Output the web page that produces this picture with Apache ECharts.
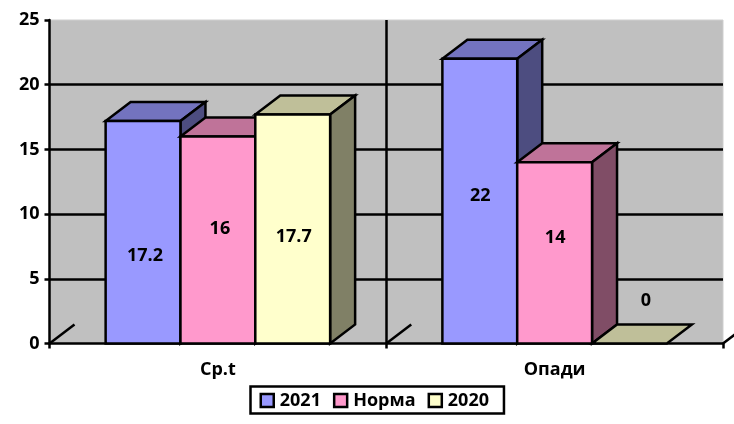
<!DOCTYPE html>
<html>
<head>
<meta charset="utf-8">
<style>
  html, body { margin: 0; padding: 0; background: #fff; }
  #chart { width: 734px; height: 424px; }
</style>
<script src="https://cdn.jsdelivr.net/npm/echarts@6/dist/echarts.min.js"></script>
</head>
<body>
<div id="chart"></div>
<script>
const categories = ['Ср.t', 'Опади']
const values2021 = [17.2, 22]
const valuesNorma = [16, 14]
const values2020 = [17.7, 0]
const yTicksMax = 25
const yTicksStep = 5

const FONT = '"Open Sans", sans-serif'
const FONT_SIZE = 18
const LINE = 2.5
// сдвиг 3D грани
const DEPTH_X = 25
const DEPTH_Y = -19
const BARS_IN_BAND = 4.5
// подписи стоят не по центру столбца, как в оригинале
const labelShift = [
  [[2, 23.6], [0.5, -5.4]],
  [[2, -11], [0.5, -15]],
  [[1, 8], [16.5, -42.5]]
]

const chart = echarts.init(document.getElementById('chart'))

const barSeries = (name, list, index, colors) => ({
  name,
  type: 'custom',
  itemStyle: { color: colors[0] },
  encode: { x: 0, y: 1 },
  data: list.map((v, i) => [i, v]),
  z: 5,
  renderItem: (params, api) => {
    const cat = api.value(0)
    const val = api.value(1)
    const top = api.coord([cat, val])
    const base = api.coord([cat, 0])
    const w = api.size([1, 0])[0] / BARS_IN_BAND
    const x0 = top[0] - (1.5 * w) + index * w
    const x1 = x0 + w
    const yt = top[1]
    const yb = base[1]
    const line = { stroke: '#000', lineWidth: LINE, lineJoin: 'miter' }
    const poly = (points, fill) => ({
      type: 'polygon',
      shape: { points },
      style: { fill, ...line }
    })
    const shift = labelShift[index][cat]
    return {
      type: 'group',
      children: [
        poly([[x0, yt], [x1, yt], [x1 + DEPTH_X, yt + DEPTH_Y], [x0 + DEPTH_X, yt + DEPTH_Y]], colors[1]),
        ...(val > 0 ? [
          poly([[x1, yt], [x1 + DEPTH_X, yt + DEPTH_Y], [x1 + DEPTH_X, yb + DEPTH_Y], [x1, yb]], colors[2]),
          poly([[x0, yt], [x1, yt], [x1, yb], [x0, yb]], colors[0])
        ] : []),
        {
          type: 'text',
          z2: 10,
          style: {
            text: String(val),
            x: (x0 + x1) / 2 + shift[0],
            y: (yt + yb) / 2 + shift[1],
            align: 'center',
            verticalAlign: 'middle',
            fill: '#000',
            font: `bold ${FONT_SIZE}px ${FONT}`
          }
        }
      ]
    }
  }
})

const floorSeries = {
  type: 'custom',
  silent: true,
  z: 3,
  encode: { x: 0, y: 1 },
  data: [[0, 0], [1, 0], [1, 1]],
  renderItem: (params, api) => {
    const p = api.coord([api.value(0), 0])
    const half = api.size([1, 0])[0] / 2
    const x = p[0] + (api.value(1) ? half : -half)
    return {
      type: 'line',
      shape: { x1: x, y1: p[1], x2: x + DEPTH_X, y2: p[1] + DEPTH_Y },
      style: { stroke: '#000', lineWidth: LINE }
    }
  }
}

chart.setOption({
  animation: false,
  backgroundColor: '#fff',
  textStyle: { fontFamily: FONT },
  grid: {
    show: true,
    left: 49.5,
    right: 11,
    top: 20,
    bottom: 80.5,
    backgroundColor: '#C0C0C0',
    borderColor: '#CFCFCF',
    borderWidth: 1
  },
  legend: {
    left: 250.5,
    top: 386.5,
    orient: 'horizontal',
    data: ['2021', 'Норма', '2020'],
    backgroundColor: '#fff',
    borderColor: '#000',
    borderWidth: LINE,
    borderRadius: 0,
    padding: [5, 15, 4, 9],
    itemWidth: 13,
    itemHeight: 13,
    itemGap: 12,
    icon: 'rect',
    itemStyle: { borderColor: '#000', borderWidth: LINE },
    textStyle: { color: '#000', fontWeight: 'bold', fontSize: FONT_SIZE, fontFamily: FONT, padding: [0, 0, 0, 1] }
  },
  xAxis: {
    type: 'category',
    data: categories,
    boundaryGap: true,
    axisLine: { lineStyle: { color: '#000', width: LINE } },
    axisTick: { show: true, length: 5, lineStyle: { color: '#000', width: LINE } },
    axisLabel: { color: '#000', fontWeight: 'bold', fontSize: FONT_SIZE, fontFamily: FONT, margin: 17 },
    splitLine: { show: true, showMinLine: false, showMaxLine: false, lineStyle: { color: '#000', width: LINE } }
  },
  yAxis: {
    type: 'value',
    min: 0,
    max: yTicksMax,
    interval: yTicksStep,
    axisLine: { show: true, lineStyle: { color: '#000', width: LINE } },
    axisTick: { show: true, length: 5, lineStyle: { color: '#000', width: LINE } },
    axisLabel: { color: '#000', fontWeight: 'bold', fontSize: FONT_SIZE, fontFamily: FONT, margin: 10 },
    splitLine: { show: true, showMinLine: false, showMaxLine: false, lineStyle: { color: '#000', width: LINE } }
  },
  series: [
    floorSeries,
    barSeries('2021', values2021, 0, ['#9999FF', '#7373BF', '#4D4D80']),
    barSeries('Норма', valuesNorma, 1, ['#FF99CC', '#BF7399', '#804D66']),
    barSeries('2020', values2020, 2, ['#FFFFCC', '#BFBF99', '#808066'])
  ]
})
</script>
</body>
</html>
